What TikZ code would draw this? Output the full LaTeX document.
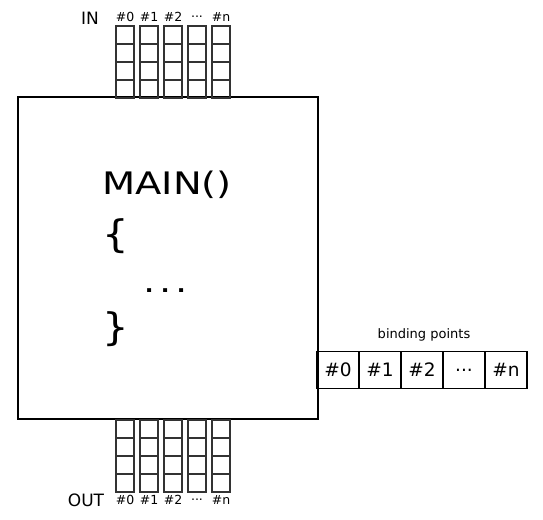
\documentclass[tikz,border=0pt]{standalone}
\usepackage{fontspec}
\setmainfont{DejaVu Sans}
\newfontfamily\widefont[FakeStretch=1.24]{DejaVu Sans}
\newfontfamily\bracefont[FakeStretch=1.1]{DejaVu Sans}
\newcommand\mytdots{.\kern0pt.\kern0pt.}
\newcommand\bigdots{.\kern4pt.\kern4pt.}
\begin{document}
\begin{tikzpicture}[x=1pt,y=-1pt,
  mainbox/.style={draw,line width=1.8pt},
  cell/.style={draw=black!80,line width=1.2pt,minimum width=18pt,minimum height=18pt,inner sep=0pt,outer sep=0pt},
  bcell/.style={draw,line width=1.5pt,minimum width=42pt,minimum height=37pt,inner sep=0pt,font=\fontsize{18.5}{22}\selectfont},
  small/.style={font=\fontsize{12.5}{13}\selectfont,inner sep=0pt},
  big/.style={font=\widefont\fontsize{31}{34}\selectfont,inner sep=0pt,anchor=base west},
  brace/.style={font=\bracefont\fontsize{38}{40}\selectfont,inner sep=0pt,anchor=base west}]
\useasboundingbox (0,0) rectangle (543,519);
\node[mainbox,minimum width=300pt,minimum height=322pt,inner sep=0pt] (main) at (168,258) {};
% columns
\foreach \i/\lab in {0/\#0,1/\#1,2/\#2,3/\mytdots,4/\#n}{
  \pgfmathsetmacro{\cx}{125+24*\i}
  \foreach \j in {0,1,2,3}{
    \node[cell] (in\i\j) at (\cx,{35+18*\j}) {};
    \node[cell] (out\i\j) at (\cx,{429+18*\j}) {};
  }
  \node[small] (inl\i) at (\cx,17) {\lab};
  \node[small] (outl\i) at (\cx,500) {\lab};
}
\node[font=\fontsize{17}{18}\selectfont,inner sep=0pt] (in) at (90,18) {IN};
\node[font=\fontsize{17}{18}\selectfont,inner sep=0pt] (out) at (86,500) {OUT};
% binding points
\foreach \i/\lab in {0/\#0,1/\#1,2/\#2,3/\mytdots,4/\#n}{
  \node[bcell] (b\i) at ({338+42*\i},370) {\lab};
}
\node[font=\fontsize{13}{15}\selectfont,inner sep=0pt] (bl) at (424,335) {binding points};
% main text
\node[big] (t1) at (102,194) {MAIN()};
\node[brace] (t2) at (102,247) {\{};
\node[big] (t3) at (143,292) {\bigdots};
\node[brace] (t4) at (102,340) {\}};
\end{tikzpicture}
\end{document}
